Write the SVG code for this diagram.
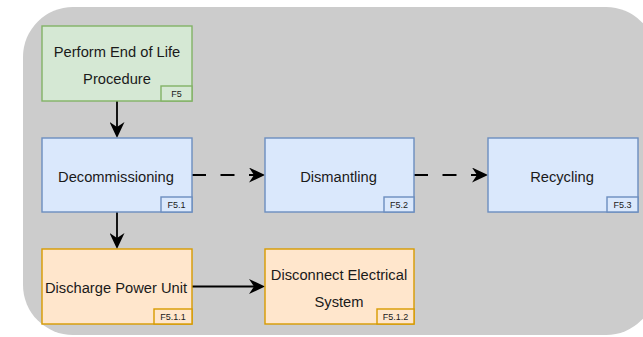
<svg xmlns="http://www.w3.org/2000/svg" width="643" height="337" viewBox="0 0 643 337">
  <style>
    .green { fill: #d5e8d4; stroke: #82b366; stroke-width: 1.4; }
    .blue { fill: #dae8fc; stroke: #6c8ebf; stroke-width: 1.4; }
    .orange { fill: #ffe6cc; stroke: #d79b00; stroke-width: 1.4; }
    .label { font-family: "Liberation Sans", Arial, sans-serif; font-size: 14.7px; fill: #1a1a1a; text-anchor: middle; }
    .tag { font-family: "Liberation Sans", Arial, sans-serif; font-size: 9px; fill: #1a1a1a; text-anchor: middle; }
    .edge { fill: none; stroke: #000; stroke-width: 1.8; }
    .dashed { stroke-dasharray: 14 14.5; }
  </style>
  <defs>
    <marker id="arrow" viewBox="0 0 16 15" refX="5" refY="7.5" markerWidth="16" markerHeight="15" markerUnits="userSpaceOnUse" orient="auto">
      <path d="M16,7.5 L0,0 L5,7.5 L0,15 Z" fill="#000"/>
    </marker>
  </defs>

  <!-- container -->
  <rect x="23" y="7" width="633" height="328" rx="50" ry="50" fill="#cccccc"/>

  <!-- connectors -->
  <g id="connectors">
    <line class="edge" x1="117" y1="101" x2="117" y2="127" marker-end="url(#arrow)"/>
    <line class="edge" x1="117" y1="212" x2="117" y2="238" marker-end="url(#arrow)"/>
    <line class="edge" x1="192" y1="286.5" x2="254" y2="286.5" marker-end="url(#arrow)"/>
    <line class="edge dashed" x1="192" y1="175" x2="254" y2="175" marker-end="url(#arrow)"/>
    <line class="edge dashed" x1="414" y1="175" x2="477" y2="175" marker-end="url(#arrow)"/>
  </g>

  <g id="f5">
    <rect class="green" x="42" y="26" width="150" height="75"/>
    <text class="label" x="117" y="57">Perform End of Life</text>
    <text class="label" x="117" y="84">Procedure</text>
    <rect class="green" x="161" y="86" width="31" height="15"/>
    <text class="tag" x="176.5" y="96.8">F5</text>
  </g>

  <g id="f5-1">
    <rect class="blue" x="42" y="138" width="150" height="74"/>
    <text class="label" x="116" y="182">Decommissioning</text>
    <rect class="blue" x="161" y="197" width="31" height="15"/>
    <text class="tag" x="176.5" y="207.6">F5.1</text>
  </g>

  <g id="f5-2">
    <rect class="blue" x="265" y="138" width="149" height="74"/>
    <text class="label" x="338.5" y="182">Dismantling</text>
    <rect class="blue" x="384" y="197" width="30" height="15"/>
    <text class="tag" x="399" y="207.6">F5.2</text>
  </g>

  <g id="f5-3">
    <rect class="blue" x="488" y="138" width="150" height="74"/>
    <text class="label" x="562" y="182">Recycling</text>
    <rect class="blue" x="607" y="197" width="31" height="15"/>
    <text class="tag" x="622.5" y="207.6">F5.3</text>
  </g>

  <g id="f5-1-1">
    <rect class="orange" x="42" y="249" width="150" height="75"/>
    <text class="label" x="116" y="292.5">Discharge Power Unit</text>
    <rect class="orange" x="154" y="309" width="38" height="15"/>
    <text class="tag" x="173" y="319.6">F5.1.1</text>
  </g>

  <g id="f5-1-2">
    <rect class="orange" x="265" y="249" width="149" height="75"/>
    <text class="label" x="339" y="280">Disconnect Electrical</text>
    <text class="label" x="339" y="307">System</text>
    <rect class="orange" x="377" y="309" width="37" height="15"/>
    <text class="tag" x="395.5" y="319.6">F5.1.2</text>
  </g>
</svg>
